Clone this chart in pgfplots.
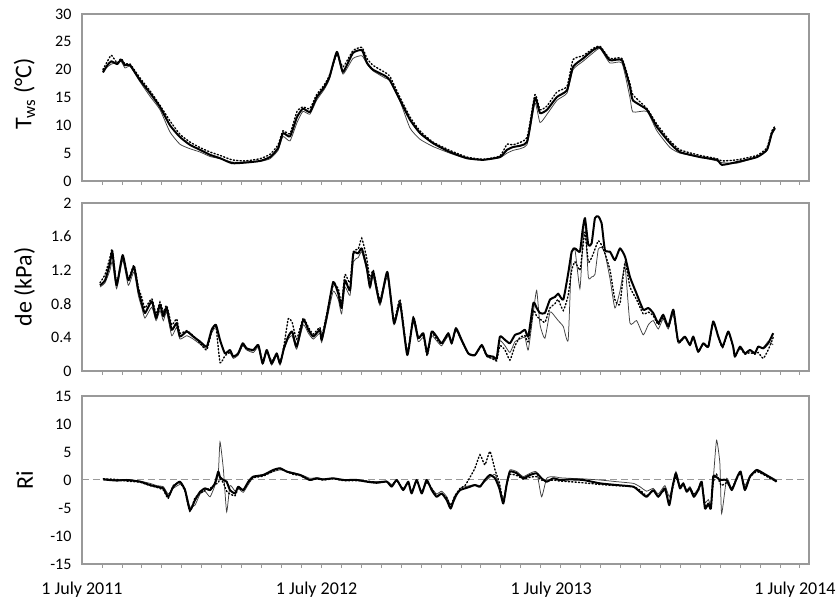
\documentclass[border=0pt]{standalone}
\usepackage{fontspec}
\setmainfont{Carlito}
\usepackage{pgfplots}
\usepackage{pgfplotstable}
\pgfplotsset{compat=1.18}

% m = months since 1 July 2011; columns: thick (mean), thin, dotted
\pgfplotstableread{
m thick thin dot
1.07 19.5 19.8 20.0
1.3 20.8 20.5 21.5
1.5 21.5 21.0 22.6
1.8 21.0 21.3 21.2
2.0 21.8 21.5 22.0
2.2 20.8 20.3 21.0
2.46 20.8 20.6 21.0
2.97 18.1 17.8 18.5
3.48 15.8 15.2 16.2
3.99 13.3 12.8 13.6
4.5 10.0 8.8 10.8
5.01 7.9 6.6 8.4
5.52 6.5 5.8 7.0
6.04 5.6 5.2 6.0
6.55 4.7 4.4 5.2
7.06 4.1 4.0 4.6
7.67 3.2 3.4 3.8
8.34 3.3 3.4 3.6
9.1 3.6 3.5 4.0
9.62 4.3 4.0 4.8
10.03 5.9 5.5 6.5
10.28 8.6 8.0 9.0
10.64 8.0 7.2 8.5
11.0 11.5 10.5 12.5
11.3 13.0 12.5 13.3
11.66 12.4 12.0 13.0
12.0 15.0 14.5 15.5
12.4 16.9 16.5 17.3
12.66 18.7 18.3 19.0
13.04 23.2 22.8 22.8
13.35 19.6 19.2 20.5
13.86 23.0 22.0 23.4
14.32 23.5 22.5 24.0
14.58 21.2 21.0 22.0
14.88 20.0 19.8 20.8
15.5 18.9 18.5 19.5
15.75 18.1 18.0 18.8
16.27 14.5 14.3 15.0
16.78 11.0 9.5 11.5
17.29 8.6 7.5 9.0
17.95 6.8 6.2 7.0
18.82 5.2 5.0 5.5
19.69 4.1 4.0 4.3
20.51 3.8 3.8 3.9
21.38 4.3 4.2 4.5
21.74 5.6 5.0 6.6
22.05 6.1 5.5 6.5
22.76 7.0 6.5 7.8
23.17 14.9 14.0 15.5
23.43 12.2 10.5 12.8
23.79 12.8 12.0 13.5
24.3 15.1 14.5 16.0
24.81 16.3 15.8 17.0
25.12 20.5 20.0 21.8
25.63 22.0 21.5 22.5
26.14 23.5 23.0 23.8
26.5 24.0 23.8 24.2
27.0 21.7 21.2 22.0
27.62 21.7 21.2 22.0
28.03 16.9 15.0 17.5
28.18 14.5 12.4 15.5
28.9 12.8 12.5 13.0
29.41 9.7 9.0 10.2
30.08 6.8 6.0 7.2
30.59 5.2 5.0 5.6
31.61 4.3 4.3 4.6
32.48 3.8 3.6 4.0
32.74 2.9 3.3 3.6
33.5 3.4 3.2 3.8
34.53 4.3 4.3 4.6
35.04 5.6 5.5 6.0
35.29 8.6 8.3 9.0
35.45 9.5 9.3 9.8
}\Tws

\pgfplotstableread{
m thick thin dot
0.92 1.02 1.00 1.05
1.18 1.08 1.05 1.15
1.43 1.28 1.20 1.35
1.55 1.42 1.30 1.45
1.77 1.02 0.98 1.05
2.08 1.38 1.32 1.36
2.37 1.08 1.02 1.10
2.66 1.24 1.18 1.26
2.88 0.96 0.90 1.00
3.05 0.81 0.76 0.88
3.22 0.69 0.63 0.75
3.57 0.83 0.76 0.86
3.79 0.63 0.60 0.68
3.99 0.79 0.72 0.82
4.16 0.65 0.60 0.70
4.33 0.75 0.70 0.78
4.59 0.49 0.42 0.55
4.84 0.57 0.52 0.62
5.01 0.41 0.38 0.45
5.36 0.47 0.42 0.48
5.69 0.41 0.38 0.42
6.04 0.35 0.32 0.33
6.38 0.29 0.27 0.25
6.63 0.49 0.45 0.47
6.85 0.55 0.52 0.53
7.06 0.37 0.35 0.10
7.31 0.21 0.22 0.18
7.57 0.25 0.22 0.22
7.74 0.17 0.15 0.18
7.99 0.21 0.19 0.20
8.22 0.33 0.30 0.32
8.42 0.27 0.25 0.26
8.76 0.25 0.22 0.24
9.02 0.31 0.28 0.30
9.24 0.09 0.08 0.12
9.45 0.25 0.22 0.24
9.70 0.09 0.07 0.12
9.96 0.21 0.18 0.20
10.13 0.09 0.07 0.10
10.33 0.27 0.25 0.30
10.55 0.41 0.38 0.62
10.75 0.47 0.42 0.58
10.98 0.29 0.26 0.38
11.32 0.61 0.55 0.63
11.58 0.49 0.45 0.52
11.83 0.41 0.38 0.44
12.17 0.49 0.45 0.52
12.26 0.37 0.34 0.40
12.52 0.65 0.60 0.68
12.85 1.06 0.95 1.02
13.11 0.92 0.85 0.98
13.28 0.75 0.68 0.80
13.45 1.08 1.00 1.15
13.71 0.96 0.90 1.05
13.88 1.40 1.30 1.42
14.13 1.40 1.35 1.45
14.31 1.46 1.42 1.58
14.56 1.24 1.20 1.35
14.73 1.00 0.98 1.10
14.90 1.18 1.12 1.20
15.24 0.81 0.78 0.85
15.62 1.18 1.12 1.15
15.96 0.57 0.55 0.60
16.27 0.81 0.78 0.85
16.64 0.19 0.25 0.22
16.95 0.63 0.58 0.65
17.20 0.39 0.35 0.40
17.46 0.45 0.40 0.42
17.66 0.21 0.25 0.18
17.89 0.47 0.42 0.45
18.14 0.41 0.36 0.38
18.40 0.33 0.30 0.32
18.74 0.45 0.42 0.43
18.91 0.33 0.32 0.33
19.13 0.51 0.48 0.50
19.42 0.37 0.35 0.36
19.76 0.21 0.20 0.21
20.10 0.19 0.18 0.19
20.45 0.31 0.30 0.30
20.70 0.19 0.17 0.18
21.04 0.17 0.15 0.14
21.21 0.15 0.14 0.12
21.38 0.41 0.36 0.30
21.64 0.37 0.30 0.25
21.89 0.33 0.22 0.13
22.15 0.43 0.35 0.30
22.40 0.45 0.38 0.40
22.66 0.49 0.40 0.42
22.83 0.41 0.25 0.35
23.09 0.81 0.70 0.72
23.26 0.75 0.96 0.65
23.43 0.69 0.55 0.62
23.68 0.69 0.39 0.58
23.94 0.85 0.70 0.75
24.19 0.88 0.65 0.80
24.36 0.92 0.60 0.85
24.62 0.85 0.53 0.72
24.87 1.16 0.37 0.90
25.05 1.42 1.40 1.20
25.22 1.46 1.44 1.30
25.47 1.42 0.98 1.20
25.61 1.68 1.50 1.45
25.73 1.82 1.80 1.65
25.90 1.50 1.12 1.30
26.07 1.52 1.12 1.35
26.24 1.82 1.15 1.45
26.41 1.84 1.45 1.55
26.58 1.76 1.47 1.50
26.75 1.44 1.40 1.40
27.01 1.42 1.10 1.20
27.26 1.32 0.75 0.85
27.52 1.46 0.95 0.80
27.78 1.36 1.24 1.30
28.03 1.12 0.57 1.00
28.37 0.92 0.60 0.85
28.71 0.73 0.43 0.68
28.97 0.75 0.55 0.70
29.22 0.69 0.60 0.66
29.48 0.57 0.50 0.55
29.73 0.67 0.62 0.64
29.99 0.53 0.50 0.52
30.25 0.73 0.68 0.70
30.50 0.35 0.33 0.34
30.84 0.41 0.40 0.40
31.10 0.31 0.30 0.31
31.27 0.41 0.40 0.40
31.52 0.23 0.22 0.24
31.78 0.33 0.32 0.32
32.04 0.29 0.28 0.29
32.29 0.59 0.57 0.58
32.55 0.41 0.40 0.40
32.77 0.29 0.28 0.28
33.06 0.47 0.46 0.46
33.31 0.29 0.28 0.28
33.40 0.17 0.17 0.18
33.66 0.29 0.28 0.27
33.91 0.21 0.21 0.20
34.17 0.25 0.25 0.22
34.42 0.21 0.22 0.20
34.59 0.29 0.28 0.22
34.85 0.27 0.28 0.15
35.10 0.33 0.35 0.25
35.36 0.45 0.31 0.40
}\de

\pgfplotstableread{
m thick thin dot
1.09 0.1 0.2 0.2
1.77 -0.1 0.0 0.1
2.29 0.0 0.1 -0.2
2.97 -0.3 -0.2 -0.4
3.48 -0.9 -0.6 -1.0
3.82 -1.2 -1.0 -1.3
4.16 -1.5 -1.2 -1.8
4.41 -3.0 -2.5 -3.3
4.67 -1.2 -1.5 -1.0
5.01 -0.3 -0.8 -0.5
5.27 -1.8 -1.5 -2.0
5.52 -5.4 -4.8 -5.6
5.78 -3.6 -4.5 -3.2
6.04 -2.1 -2.5 -2.4
6.29 -1.5 -2.0 -1.8
6.55 -1.8 -3.0 -1.5
6.80 -0.6 -1.0 -0.8
6.97 1.5 1.0 -0.5
7.06 0.5 6.8 0.2
7.23 0.0 2.0 -0.5
7.40 -0.3 -5.7 -2.0
7.57 -1.8 -1.0 -2.5
7.83 -2.4 -2.0 -2.8
7.99 -1.2 -1.5 -1.5
8.25 -1.8 -2.2 -1.8
8.51 -0.3 -0.8 -0.5
8.76 0.6 0.4 0.4
9.27 0.9 0.8 0.7
9.79 1.8 1.5 1.6
10.13 2.1 1.8 2.0
10.47 1.5 1.6 1.5
10.81 1.2 1.3 1.0
11.15 0.9 1.0 0.8
11.32 0.6 0.8 0.5
11.66 0.0 0.3 0.0
12.01 0.3 0.4 0.2
12.34 0.1 0.2 0.0
12.85 0.3 0.3 0.2
13.37 0.0 0.1 -0.1
14.05 0.0 0.1 -0.1
14.56 -0.3 -0.2 -0.2
15.07 -0.5 -0.3 -0.4
15.59 -0.3 -0.2 -0.3
15.84 -1.2 -0.8 -1.0
16.10 0.0 -0.2 0.0
16.43 -1.8 -1.5 -1.6
16.69 -0.3 -0.5 -0.5
16.86 -2.4 -2.0 -2.2
17.12 0.0 -0.3 -0.2
17.38 -2.4 -2.0 -2.2
17.63 0.0 -0.5 -0.3
17.89 -1.8 -1.5 -1.5
18.14 -3.0 -2.5 -2.8
18.40 -2.4 -2.0 -2.5
18.66 -3.6 -3.0 -3.2
18.86 -5.1 -4.5 -4.5
19.08 -3.0 -3.5 -2.8
19.34 -1.8 -1.5 -1.5
19.59 -1.5 -1.2 -1.0
19.85 -1.2 -1.0 0.5
20.10 -0.9 -0.8 2.1
20.36 -1.2 -1.0 4.5
20.61 0.0 -0.3 2.7
20.87 0.9 0.5 5.1
21.13 0.3 1.0 1.8
21.35 -1.5 -1.0 -0.5
21.55 -4.2 -3.5 -3.8
21.72 -0.9 -0.5 -0.8
21.89 1.5 1.8 1.0
22.24 1.2 1.5 0.8
22.57 0.3 0.6 0.2
22.92 0.9 1.2 0.5
23.26 1.2 1.4 0.6
23.51 0.3 -3.0 0.0
23.77 -0.3 0.3 -0.2
24.11 0.3 0.6 0.0
24.45 0.0 0.4 -0.2
24.96 0.1 0.3 -0.3
25.64 0.0 0.2 -0.5
26.50 -0.6 0.0 -0.8
27.35 -0.9 -0.3 -1.0
28.20 -1.2 -0.6 -1.2
28.54 -2.1 -1.2 -1.8
28.88 -3.0 -2.0 -2.8
29.22 -1.8 -1.5 -2.0
29.48 -3.0 -2.5 -2.8
29.82 -1.5 -1.0 -1.8
30.04 -4.5 -3.0 -4.0
30.21 -1.2 -1.0 -1.5
30.38 1.2 1.5 0.5
30.59 -1.5 -1.0 -1.2
30.76 -0.6 -0.5 -0.8
30.93 -2.1 -1.8 -2.0
31.10 -1.5 -1.2 -1.5
31.30 -3.0 -2.5 -2.5
31.52 -1.8 -1.5 -2.0
31.70 -0.3 -0.5 -0.5
31.87 -5.1 -4.0 -4.5
32.04 -4.2 -3.5 -4.5
32.17 -5.1 -4.5 -5.2
32.29 0.6 0.0 -0.5
32.46 0.5 7.1 1.0
32.63 0.0 3.0 -0.5
32.72 0.0 -6.0 -1.0
32.98 0.0 0.3 -0.5
33.24 -1.8 -1.5 -1.5
33.49 0.3 0.5 0.2
33.69 1.5 1.3 1.2
33.91 -1.8 -1.0 -1.5
34.17 0.6 0.8 0.5
34.51 1.8 1.6 1.5
34.85 1.2 1.0 1.0
35.19 0.5 0.6 0.3
35.53 -0.3 0.0 -0.2
}\Ri

\pgfplotsset{
  panel/.style={
    scale only axis, width=727pt,
    xmin=0, xmax=37.19,
    axis line style={draw=black!40, line width=1.1pt},
    xtick={0,12,24,36.47}, xticklabels={},
    major x tick style={draw=none},
    minor xtick={1.023,2.043,...,36.8},
    minor x tick style={draw=black!40, line width=0.8pt},
    minor tick length=4pt,
    tick align=outside,
    xtick pos=bottom, ytick pos=left,
    major tick length=0pt,
    yticklabel style={font=\fontsize{16}{18}\selectfont, xshift=-7pt},
    every axis y label/.style={at={(axis description cs:-0.079,0.5)}, rotate=90, anchor=center, font=\fontsize{24}{28}\selectfont},
    clip=false,
  },
  thinl/.style={black!75, line width=0.75pt, smooth, tension=0.3},
  thickl/.style={black, line width=2pt, line join=round, smooth, tension=0.3},
  dotl/.style={black, line width=1.4pt, dash pattern=on 1.2pt off 2.2pt, line cap=round, smooth, tension=0.3},
}

\begin{document}
\begin{tikzpicture}
\useasboundingbox (0,0) rectangle (839pt,604pt);

\begin{axis}[panel, at={(82pt,423pt)}, anchor=south west, height=167pt,
  ymin=0, ymax=30, ytick={0,5,...,30}, yticklabels={0,5,10,15,20,25,30},
  ylabel={T\textsubscript{ws} (°C)},
  every axis y label/.style={at={(axis description cs:-0.079,0.52)}, rotate=90, anchor=center, font=\fontsize{24}{28}\selectfont}]
\addplot[thinl] table[x=m,y=thin] {\Tws};
\addplot[dotl] table[x=m,y=dot] {\Tws};
\addplot[thickl] table[x=m,y=thick] {\Tws};
\end{axis}

\begin{axis}[panel, at={(82pt,233pt)}, anchor=south west, height=168pt,
  ymin=0, ymax=2, ytick={0,0.4,0.8,1.2,1.6,2}, yticklabels={0,0.4,0.8,1.2,1.6,2},
  ylabel={de (kPa)}]
\addplot[thinl] table[x=m,y=thin] {\de};
\addplot[dotl] table[x=m,y=dot] {\de};
\addplot[thickl] table[x=m,y=thick] {\de};
\end{axis}

\begin{axis}[panel, at={(82pt,40pt)}, anchor=south west, height=168pt,
  ymin=-15, ymax=15, ytick={-15,-10,...,15}, yticklabels={-15,-10,-5,0,5,10,15},
  ylabel={Ri},
  xticklabels={1 July 2011,1 July 2012,1 July 2013,1 July 2014},
  xticklabel style={font=\fontsize{18}{20}\selectfont, yshift=-14pt}]
\addplot[black!40, line width=1pt, dash pattern=on 7pt off 4pt] coordinates {(0,0) (37.19,0)};
\addplot[thinl] table[x=m,y=thin] {\Ri};
\addplot[dotl] table[x=m,y=dot] {\Ri};
\addplot[thickl] table[x=m,y=thick] {\Ri};
\end{axis}
\end{tikzpicture}
\end{document}
